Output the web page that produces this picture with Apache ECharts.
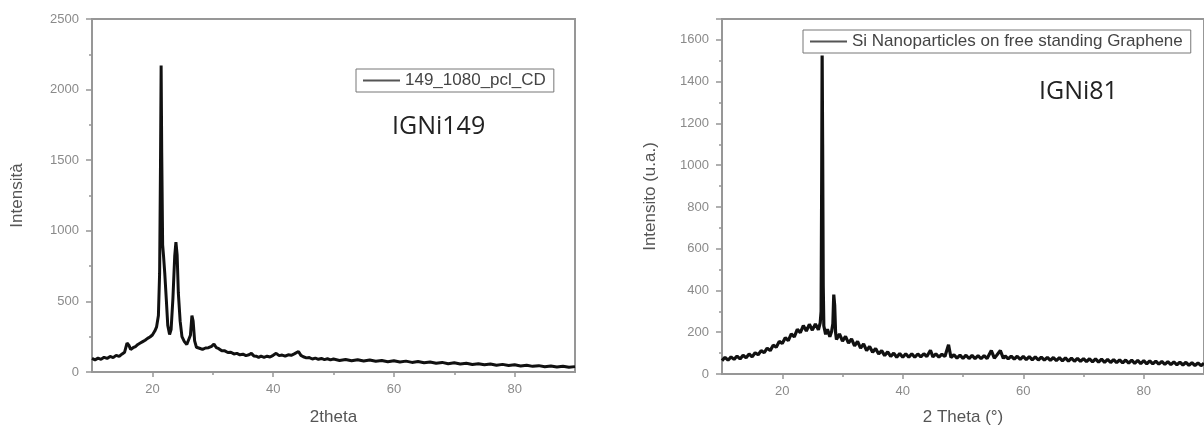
<!DOCTYPE html>
<html>
<head>
<meta charset="utf-8">
<script src="https://cdn.jsdelivr.net/npm/echarts@6/dist/echarts.min.js"></script>
<style>
html,body{margin:0;padding:0;background:#fff;}
#c{width:1204px;height:431px;}
</style>
</head>
<body>
<div id="c"></div>
<script>
// ---- Left panel (IGNi149) ----
const theta1 = [
10.0,10.5,11.0,11.5,12.0,12.5,13.0,13.5,14.0,14.5,15.0,15.4,15.8,16.1,16.4,16.8,17.2,17.6,18.0,18.4,18.8,19.2,19.6,20.0,20.4,20.7,21.0,21.2,21.35,21.45,21.55,21.7,21.85,22.05,22.3,22.55,22.85,23.1,23.4,23.7,23.9,24.1,24.3,24.6,24.9,25.3,25.7,26.0,26.3,26.55,26.75,27.0,27.3,27.8,28.3,28.8,29.3,29.8,30.2,30.6,31.0,31.5,32.0,32.5,33.0,33.5,34.0,34.5,35.0,35.5,36.0,36.4,36.8,37.2,37.6,38.0,38.5,39.0,39.5,40.0,40.5,41.0,41.5,42.0,42.5,43.0,43.5,44.2,44.6,45.0,45.5,46.0,46.5,47.0,47.5,48.0,48.5,49.0,49.5,50.0,
51,52,53,54,55,56,57,58,59,60,61,62,63,64,65,66,67,68,69,70,71,72,73,74,75,76,77,78,79,80,81,82,83,84,85,86,87,88,89,90];
const intensity1 = [
96,86,98,90,104,96,110,102,118,110,128,140,205,190,160,172,180,195,205,215,225,238,248,262,290,320,400,700,1500,2170,1550,900,820,700,520,330,265,300,520,820,920,830,560,360,250,215,195,190,260,400,360,220,175,168,160,170,172,182,198,172,165,150,150,138,140,128,132,122,126,116,122,132,114,112,104,112,104,112,106,118,132,116,120,112,122,118,128,145,118,108,100,102,92,98,90,96,88,94,86,92,
82,89,80,87,78,85,76,82,73,80,71,77,68,74,66,71,62,68,59,65,56,62,53,59,51,57,48,54,46,51,42,48,40,45,37,43,35,41,33,38];

// ---- Right panel (IGNi81) ----
const theta2 = [
10.0,10.5,11.0,11.5,12.0,12.5,13.0,13.5,14.0,14.5,15.0,15.5,16.0,16.5,17.0,17.5,18.0,18.5,19.0,19.5,20.0,20.5,21.0,21.5,22.0,22.5,23.0,23.5,24.0,24.5,25.0,25.5,26.0,26.3,26.45,26.55,26.62,26.7,26.8,26.9,27.2,27.5,27.9,28.2,28.4,28.55,28.7,28.85,29.0,29.5,30.0,30.5,31.0,31.5,32.0,32.5,33.0,33.5,34.0,34.5,35.0,35.5,36.0,36.5,37.0,37.5,38.0,38.5,39.0,39.5,40.0,40.5,41.0,41.5,42.0,42.5,43.0,43.5,44.0,44.6,45.0,45.5,46.0,46.5,47.0,47.6,48.0,48.5,49.0,49.5,50.0,50.5,51.0,51.5,52.0,52.5,53.0,53.5,54.0,54.7,55.2,55.6,56.2,56.7,57.0,57.5,58.0,58.5,59.0,59.5,60.0,60.5,61.0,61.5,62.0,62.5,63.0,63.5,64.0,64.5,65.0,65.5,66.0,66.5,67.0,67.5,68.0,68.5,69.0,69.5,70.0,70.5,71.0,71.5,72.0,72.5,73.0,73.5,74.0,74.5,75.0,75.5,76.0,76.5,77.0,77.5,78.0,78.5,79.0,79.5,80.0,80.5,81.0,81.5,82.0,82.5,83.0,83.5,84.0,84.5,85.0,85.5,86.0,86.5,87.0,87.5,88.0,88.5,89.0,89.5,90.0];
const intensity2 = [
64,80,66,82,70,86,72,90,78,96,82,102,92,112,102,124,112,138,128,156,146,174,160,192,178,214,198,232,206,238,210,240,212,245,300,950,1525,1100,420,230,190,215,178,205,240,380,330,200,165,192,158,180,148,168,135,156,124,144,112,132,104,122,96,112,88,106,84,100,80,98,80,97,80,97,80,96,82,97,84,114,82,96,81,95,84,140,79,92,76,90,75,90,74,89,74,88,73,88,74,112,76,90,112,75,87,72,86,71,85,70,84,69,83,68,82,67,81,66,80,65,79,64,78,63,77,62,76,61,75,60,74,59,73,58,72,57,71,56,70,55,69,54,68,53,67,52,66,51,65,50,64,49,63,48,62,47,60,46,59,45,58,44,57,43,56,42,54,41,53,40,52,38,50,36,48,34,47,33,45,32,43];

const legend1 = '149_1080_pcl_CD';
const legend2 = 'Si Nanoparticles on free standing Graphene';
const xMajor = [20, 40, 60, 80];
const xMinor = [30, 50, 70];

function zip(a, b) { return a.map((v, i) => [v, b[i]]); }

const axisGray = '#979797';
const labelGray = '#8a8a8a';
const nameGray = '#555';
const fontFam = '"Liberation Sans", Arial, sans-serif';

function mainX(grid, name, gap) {
  return {
    type: 'value', gridIndex: grid, min: 10, max: 90, position: 'bottom',
    name: name, nameLocation: 'middle', nameGap: gap,
    nameTextStyle: { fontFamily: fontFam, fontSize: 17, color: nameGray, verticalAlign: 'top' },
    axisLine: { show: true, onZero: false, lineStyle: { color: axisGray, width: 2 } },
    axisTick: { show: true, inside: false, length: 5, customValues: xMajor, lineStyle: { color: axisGray, width: 1.5 } },
    axisLabel: { show: true, customValues: xMajor, margin: 11, fontFamily: fontFam, fontSize: 13, color: labelGray },
    splitLine: { show: false }
  };
}
function minorX(grid) {
  return {
    type: 'value', gridIndex: grid, min: 10, max: 90, position: 'bottom',
    axisLine: { show: false },
    axisTick: { show: true, inside: false, length: 3, customValues: xMinor, lineStyle: { color: axisGray, width: 1.5 } },
    axisLabel: { show: false },
    splitLine: { show: false }
  };
}
function mainY(grid, max, interval, name, gap, showMax) {
  return {
    type: 'value', gridIndex: grid, min: 0, max: max, interval: interval,
    name: name, nameLocation: 'middle', nameGap: gap, nameRotate: 90,
    nameTextStyle: { fontFamily: fontFam, fontSize: 17, color: nameGray },
    axisLine: { show: true, onZero: false, lineStyle: { color: axisGray, width: 2 } },
    axisTick: { show: true, inside: false, length: 6, lineStyle: { color: axisGray, width: 1.5 } },
    minorTick: { show: true, splitNumber: 2, length: 3, lineStyle: { color: axisGray, width: 1.5 } },
    axisLabel: { margin: 13, fontFamily: fontFam, fontSize: 13, color: labelGray, showMaxLabel: showMax,
                 formatter: function (v) { return String(v); } },
    splitLine: { show: false }
  };
}

function legendCfg(name, left, top) {
  return {
    data: [{ name: name, icon: 'rect' }], left: left, top: top, orient: 'horizontal',
    borderColor: '#777', borderWidth: 1, borderRadius: 0, padding: [3, 8, 3, 7],
    itemWidth: 37, itemHeight: 2,
    itemStyle: { color: '#555' },
    textStyle: { fontFamily: fontFam, fontSize: 17, color: '#444' }
  };
}

const chart = echarts.init(document.getElementById('c'), null, { renderer: 'canvas' });
chart.setOption({
  animation: false,
  backgroundColor: '#fff',
  grid: [
    { left: 92, top: 19, width: 483, height: 356, show: true, borderColor: axisGray, borderWidth: 2, backgroundColor: 'transparent' },
    { left: 722, top: 19, width: 484, height: 358, show: true, borderColor: axisGray, borderWidth: 2, backgroundColor: 'transparent' }
  ],
  xAxis: [ mainX(0, '2theta', 37), minorX(0), mainX(1, '2 Theta (°)', 35), minorX(1) ],
  yAxis: [
    mainY(0, 2500, 500, 'Intensità', 66, true),
    mainY(1, 1700, 200, 'Intensito (u.a.)', 63, false)
  ],
  legend: [ legendCfg(legend1, 356, 69), legendCfg(legend2, 803, 30) ],
  graphic: [
    { type: 'text', left: 392, top: 114, style: { text: 'IGNi149', fontFamily: '"Open Sans", "Noto Sans", sans-serif', fontSize: 25, fill: '#222' } },
    { type: 'text', left: 1039, top: 79, style: { text: 'IGNi81', fontFamily: '"Open Sans", "Noto Sans", sans-serif', fontSize: 25, fill: '#222' } }
  ],
  series: [
    {
      name: legend1, type: 'line', xAxisIndex: 0, yAxisIndex: 0,
      data: zip(theta1, intensity1), showSymbol: false, symbol: 'none',
      lineStyle: { color: '#111', width: 3 }, itemStyle: { color: '#111' }, clip: true
    },
    {
      name: legend2, type: 'line', xAxisIndex: 2, yAxisIndex: 1,
      data: zip(theta2, intensity2), showSymbol: false, symbol: 'none',
      lineStyle: { color: '#111', width: 3.2 }, itemStyle: { color: '#111' }, clip: true
    }
  ]
});
</script>
</body>
</html>
